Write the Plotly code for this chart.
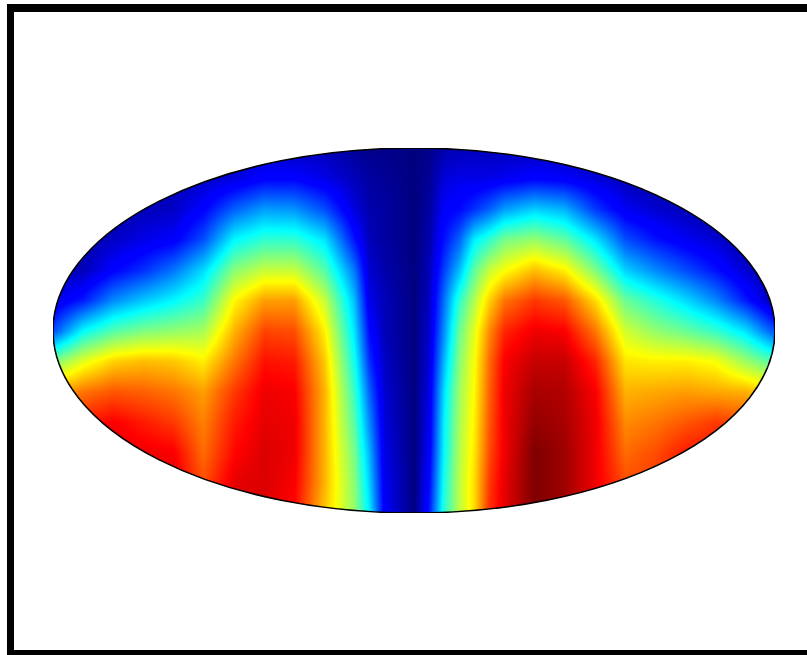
import plotly.graph_objects as go

# grid nodes of the map, degrees
LON = [-180, -165, -150, -135, -120, -105, -90, -75, -60, -45, -30, -22.5, -15, 0,
       7.5, 15, 22.5, 30, 37.5, 45, 60, 75, 90, 105, 120, 135, 150, 165, 180]
LAT = [90, 75, 60, 45, 30, 15, 0, -15, -30, -45, -60, -75, -90]

# one list per longitude, north to south
C_M180 = [.02, .02, .02, .02, .05, .08, .2, .5, .7, .8, .85, .88, .88]
C_M165 = [.02, .02, .02, .03, .05, .15, .38, .6, .76, .85, .88, .9, .9]
C_M150 = [.02, .02, .03, .06, .12, .26, .46, .67, .79, .88, .9, .9, .9]
C_M135 = [.03, .03, .05, .09, .17, .32, .5, .69, .78, .85, .89, .9, .9]
C_M120 = [.04, .05, .06, .11, .24, .37, .52, .68, .76, .82, .88, .9, .9]
C_M105 = [.05, .06, .12, .2, .34, .43, .54, .64, .72, .75, .77, .8, .82]
C_M90 = [.05, .08, .22, .37, .51, .63, .7, .76, .82, .85, .87, .9, .9]
C_M75 = [.06, .12, .28, .42, .57, .72, .81, .86, .89, .9, .91, .91, .91]
C_M60 = [.05, .12, .27, .42, .57, .72, .8, .85, .88, .89, .89, .88, .87]
C_M45 = [.05, .09, .2, .35, .46, .57, .64, .68, .7, .7, .7, .7, .68]
C_M30 = [.02, .05, .08, .14, .24, .31, .35, .39, .43, .46, .49, .51, .52]
C_M22 = [.01, .03, .04, .05, .07, .09, .13, .17, .22, .26, .3, .33, .36]
C_M15 = [.01, .02, .03, .03, .04, .05, .05, .06, .07, .08, .09, .1, .11]
C_0 = [0, 0, 0, 0, 0, 0, 0, 0, 0, 0, 0, 0, 0]
C_P7 = [.01, .02, .03, .04, .05, .06, .07, .08, .09, .1, .11, .13, .15]
C_P15 = [.04, .08, .11, .14, .19, .24, .27, .31, .35, .37, .38, .4, .42]
C_P22 = [.05, .09, .13, .22, .31, .42, .48, .51, .53, .54, .55, .56, .56]
C_P30 = [.05, .09, .17, .36, .47, .55, .6, .62, .63, .64, .65, .66, .66]
C_P37 = [.05, .09, .22, .42, .57, .67, .74, .77, .78, .79, .8, .82, .83]
C_P45 = [.05, .1, .28, .49, .62, .76, .84, .88, .89, .89, .89, .9, .9]
C_P60 = [.05, .12, .33, .52, .69, .82, .89, .93, .96, .98, 1, 1, 1]
C_P75 = [.05, .11, .3, .47, .64, .79, .88, .93, .95, .96, .97, .97, .97]
C_P90 = [.04, .08, .18, .35, .5, .66, .76, .84, .88, .89, .89, .89, .89]
C_P105 = [.03, .05, .1, .2, .33, .48, .58, .65, .7, .74, .77, .8, .8]
C_P120 = [.02, .03, .07, .14, .26, .41, .52, .64, .71, .76, .8, .82, .82]
C_P135 = [.02, .03, .05, .1, .2, .34, .48, .64, .72, .79, .85, .86, .86]
C_P150 = [.02, .02, .03, .07, .14, .26, .43, .62, .71, .82, .86, .86, .86]
C_P165 = [.01, .02, .02, .03, .07, .15, .35, .53, .7, .8, .84, .84, .84]
C_P180 = [.01, .01, .01, .02, .03, .03, .2, .45, .65, .75, .8, .8, .8]

COLUMNS = [C_M180, C_M165, C_M150, C_M135, C_M120, C_M105, C_M90, C_M75, C_M60, C_M45,
           C_M30, C_M22, C_M15, C_0, C_P7, C_P15, C_P22, C_P30, C_P37, C_P45, C_P60,
           C_P75, C_P90, C_P105, C_P120, C_P135, C_P150, C_P165, C_P180]

JET = [[0, "#00007f"], [0.11, "#0000ff"], [0.125, "#0000ff"], [0.375, "#00ffff"],
       [0.625, "#ffff00"], [0.875, "#ff0000"], [1, "#7f0000"]]

z = [[col[i] for col in COLUMNS] for i in range(len(LAT))]

fig = go.Figure(go.Heatmap(x=LON, y=LAT, z=z, zmin=0, zmax=1, colorscale=JET,
                           zsmooth="best", showscale=False, hoverinfo="skip"))

# white outside the ellipse (evenodd fill leaves the inside open)
kx, ky = 180 * 0.5523, 90 * 0.5523
mask = (f"M -180 -90 L 180 -90 L 180 90 L -180 90 Z "
        f"M -180 0 C -180 {ky} {-kx} 90 0 90 C {kx} 90 180 {ky} 180 0 "
        f"C 180 {-ky} {kx} -90 0 -90 C {-kx} -90 -180 {-ky} -180 0 Z")
fig.add_shape(type="path", path=mask, fillcolor="white", line_width=0, xref="x", yref="y")
fig.add_shape(type="circle", x0=-180, x1=180, y0=-90, y1=90, xref="x", yref="y",
              line=dict(color="black", width=1.5))

# thick frame round the figure, paper units from the margins below
def px(v):
    return (v - 53) / 722


def py(v):
    return (513 - v) / 365


frame = dict(type="rect", xref="paper", yref="paper", fillcolor="black", line_width=0)
fig.add_shape(x0=px(7), x1=px(14), y0=py(4), y1=py(660), **frame)
fig.add_shape(x0=px(7), x1=px(810), y0=py(4), y1=py(12), **frame)
fig.add_shape(x0=px(7), x1=px(810), y0=py(650), y1=py(660), **frame)

fig.update_layout(width=807, height=655, margin=dict(l=53, r=32, t=148, b=142),
                  paper_bgcolor="white", plot_bgcolor="white",
                  xaxis=dict(visible=False, range=[-180, 180]),
                  yaxis=dict(visible=False, range=[-90, 90]))

fig.write_html("out.html", config=dict(displayModeBar=False),
               post_script="document.body.style.margin='0';")
